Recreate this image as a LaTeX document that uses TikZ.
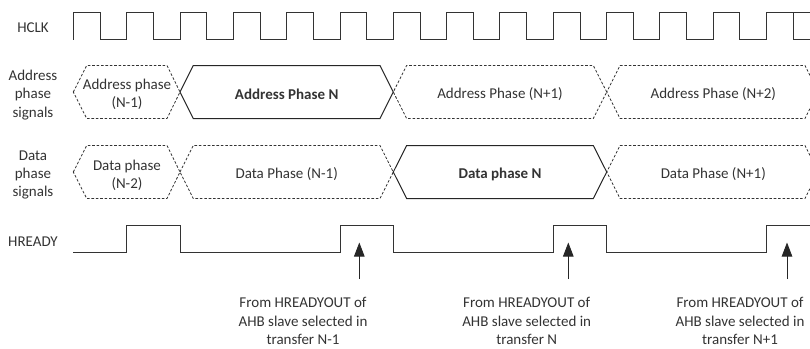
\documentclass[tikz,border=0pt]{standalone}
\usepackage{fontspec}
\setmainfont{Carlito}
\usetikzlibrary{arrows.meta}
\tikzset{
  wave/.style={draw=black!80,line width=0.9pt,line join=miter},
  busdash/.style={draw=black!80,line width=0.8pt,dash pattern=on 2.6pt off 1.8pt},
  bussolid/.style={draw=black!85,line width=1pt},
  lbl/.style={inner sep=0pt,align=center,text=black!80,yshift=-1pt,font=\fontsize{15}{18.2}\selectfont},
  blbl/.style={lbl,font=\fontsize{15}{18.2}\selectfont\bfseries},
  srcarrow/.style={draw=black!85,line width=0.9pt,-{Triangle[length=14pt,width=10.5pt]}},
}
\begin{document}
\begin{tikzpicture}[x=1pt,y=-1pt]
\useasboundingbox (0,0) rectangle (810,348);
% clock
\draw[wave] (73.3,39.5) -- (73.3,12.5)
  \foreach \k in {0,...,13}{
    -- ({73.3+53.33*\k+26.67},12.5) -- ({73.3+53.33*\k+26.67},39.5)
    -- ({73.3+53.33*\k+53.33},39.5) -- ({73.3+53.33*\k+53.33},12.5)
  }
  -- (793.3,12.5) -- (793.3,39.5) -- (810,39.5);
% address row
\draw[busdash] (73.3,92) -- (86.7,65.5) -- (167,65.5) -- (180,92) -- (167,118.5) -- (86.7,118.5) -- cycle;
\draw[busdash] (606.7,92) -- (593.3,65.5) -- (406.6,65.5) -- (393.3,92) -- (406.6,118.5) -- (593.3,118.5) -- cycle;
\draw[busdash] (810,75.5) -- (805,65.5) -- (620,65.5) -- (606.7,92) -- (620,118.5) -- (805,118.5) -- (810,108.5);
\draw[bussolid] (180,92) -- (193.3,65.5) -- (380,65.5) -- (393.3,92) -- (380,118.5) -- (193.3,118.5) -- cycle;
% data row
\draw[busdash] (73.3,172) -- (86.7,145.5) -- (167,145.5) -- (180,172) -- (167,198.5) -- (86.7,198.5) -- cycle;
\draw[busdash] (180,172) -- (193.3,145.5) -- (380,145.5) -- (393.3,172) -- (380,198.5) -- (193.3,198.5) -- cycle;
\draw[busdash] (810,155.5) -- (805,145.5) -- (620,145.5) -- (606.7,172) -- (620,198.5) -- (805,198.5) -- (810,188.5);
\draw[bussolid] (393.3,172) -- (406.6,145.5) -- (593.3,145.5) -- (606.7,172) -- (593.3,198.5) -- (406.6,198.5) -- cycle;
% hready
\draw[wave] (73.3,252.3) -- (126.7,252.3) -- (126.7,225.7) -- (180,225.7) -- (180,252.3)
  -- (340,252.3) -- (340,225.7) -- (393.3,225.7) -- (393.3,252.3)
  -- (553.3,252.3) -- (553.3,225.7) -- (606.7,225.7) -- (606.7,252.3)
  -- (766.7,252.3) -- (766.7,225.7) -- (810,225.7);
% left labels
\node[lbl] (lclk) at (33,27) {HCLK};
\node[lbl] (laddr) at (33,94) {Address\\phase\\signals};
\node[lbl] (ldata) at (33,174) {Data\\phase\\signals};
\node[lbl] (lrdy) at (33,241) {HREADY};
% bus labels
\node[lbl] (a0) at (127,93.5) {Address phase\\(N-1)};
\node[blbl] (a1) at (286.7,93) {Address Phase N};
\node[lbl] (a2) at (500,93) {Address Phase (N+1)};
\node[lbl] (a3) at (713.3,93) {Address Phase (N+2)};
\node[lbl] (d0) at (127,174) {Data phase\\(N-2)};
\node[lbl] (d1) at (286.7,173) {Data Phase (N-1)};
\node[blbl] (d2) at (500,173) {Data phase N};
\node[lbl] (d3) at (713.3,173) {Data Phase (N+1)};
% sources
\node[lbl] (s1) at (303,320) {From HREADYOUT of\\AHB slave selected in\\transfer N-1};
\node[lbl] (s2) at (526.7,320) {From HREADYOUT of\\AHB slave selected in\\transfer N};
\node[lbl] (s3) at (740,320) {From HREADYOUT of\\AHB slave selected in\\transfer N+1};
\coordinate (t1) at (359.3,242.5);
\coordinate (t2) at (568.3,242.5);
\coordinate (t3) at (787,242.5);
\coordinate (f1) at (359.3,279);
\coordinate (f2) at (568.3,279);
\coordinate (f3) at (787,279);
\draw[srcarrow] (f1) -- (t1);
\draw[srcarrow] (f2) -- (t2);
\draw[srcarrow] (f3) -- (t3);
\end{tikzpicture}
\end{document}
